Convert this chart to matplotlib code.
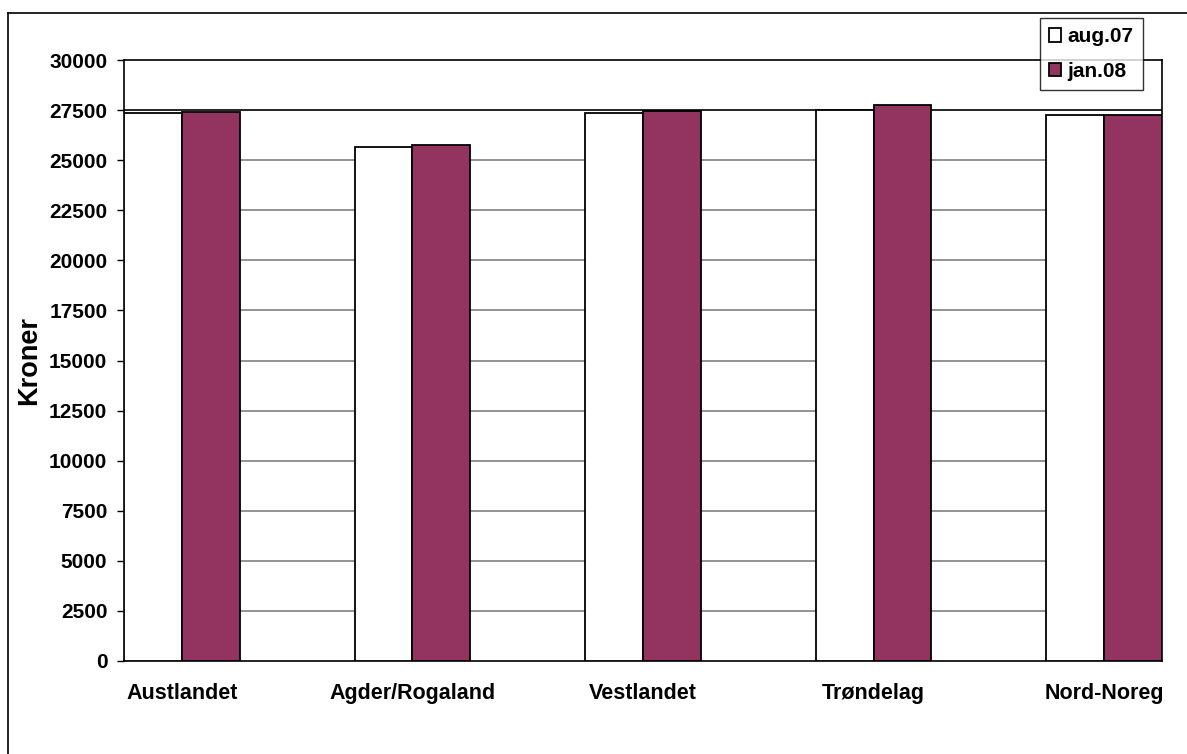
import matplotlib
matplotlib.use("Agg")
import matplotlib.pyplot as plt
from matplotlib.lines import Line2D
import numpy as np

categories = ["Austlandet", "Agder/Rogaland", "Vestlandet", "Trøndelag", "Nord-Noreg"]
series_names = ["aug.07", "jan.08"]
aug07 = [27335, 25670, 27350, 27500, 27250]
jan08 = [27400, 25750, 27435, 27765, 27240]
yticks = list(range(0, 30001, 2500))

W, H = 1187, 754
fig = plt.figure(figsize=(W / 100, H / 100), dpi=100)
plt.rcParams['font.family'] = ['Liberation Sans', 'DejaVu Sans']

ax = fig.add_axes([124 / W, 1 - 661 / H, (1162 - 124) / W, (661 - 60) / H])

x = np.arange(len(categories))
bw = 0.2516
ax.bar(x - bw / 2, aug07, bw, color="white", edgecolor="black", linewidth=1.3,
       label=series_names[0], zorder=3)
ax.bar(x + bw / 2, jan08, bw, color="#933360", edgecolor="black", linewidth=1.3,
       label=series_names[1], zorder=3)

ax.set_xlim(-bw, len(categories) - 1 + bw)
ax.set_ylim(0, 30000)
ax.set_yticks(yticks)
ax.set_yticklabels([str(v) for v in yticks], fontsize=15, fontweight="bold")
ax.set_xticks(x)
ax.set_xticklabels(categories, fontsize=15.5, fontweight="bold")
ax.tick_params(axis="x", length=0, pad=16)
ax.tick_params(axis="y", length=5, width=1, pad=7, colors="black")

for v in yticks[1:-1]:
    c = "black" if v == 27500 else "#808080"
    ax.axhline(v, color=c, linewidth=1.2, zorder=1)

for s in ax.spines.values():
    s.set_color("black")
    s.set_linewidth(1.2)

ax.set_ylabel("Kroner", fontsize=19.5, fontweight="bold", labelpad=5)

# outer chart frame (left and top edges visible)
fig.add_artist(Line2D([8 / W, 8 / W], [1 - 13 / H, 0], transform=fig.transFigure,
                      color="black", linewidth=1.2))
fig.add_artist(Line2D([8 / W, 1], [1 - 13 / H, 1 - 13 / H], transform=fig.transFigure,
                      color="black", linewidth=1.2))

leg = fig.legend(loc="upper right", bbox_to_anchor=(1143 / W, 1 - 18 / H),
                 bbox_transform=fig.transFigure, borderaxespad=0,
                 prop={"size": 15, "weight": "bold"}, frameon=True, fancybox=False,
                 handlelength=0.6, handleheight=0.6, handletextpad=0.3,
                 labelspacing=0.75, borderpad=0.45)
leg.get_frame().set_edgecolor("black")
leg.get_frame().set_linewidth(1.0)

fig.savefig("out.png", dpi=100)
